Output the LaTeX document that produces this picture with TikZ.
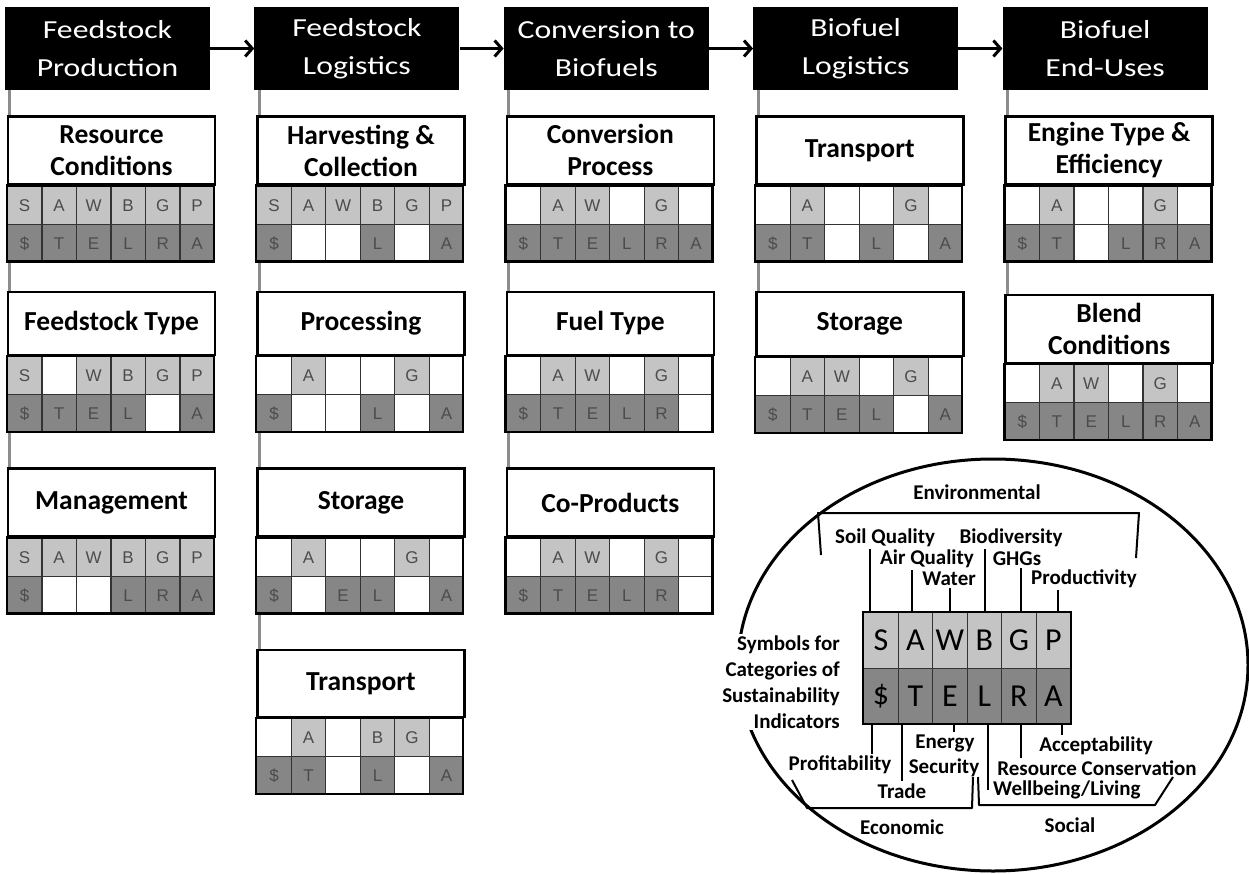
\documentclass[tikz,border=0pt]{standalone}
\usepackage{fontspec}
\setmainfont{Carlito}
\newfontfamily\hdfont{Carlito}[FakeStretch=1.22]
\newfontfamily\cellfont{Liberation Sans}
\usepackage{tikz}
\usetikzlibrary{arrows.meta,positioning,calc,backgrounds,shapes.geometric}
\definecolor{Light}{HTML}{C4C4C4}
\definecolor{Dark}{HTML}{868686}
\definecolor{Spine}{HTML}{8C8C8C}
\tikzset{
  stage/.style={fill=black,text=white,minimum width=205pt,minimum height=83pt,inner sep=0pt,
    align=center,font=\hdfont\fontsize{26}{38}\selectfont},
  flow/.style={-{Straight Barb[length=7pt,width=16pt]},line width=3pt},
  spine/.style={draw=Spine,line width=3pt},
  titlebox/.style={draw,line width=2.5pt,fill=white,minimum width=207pt,inner sep=0pt,
    align=center,font=\bfseries\fontsize{27.5}{32}\selectfont},
  cell/.style={draw=black!80,line width=1.2pt,minimum width=34.5pt,minimum height=38pt,inner sep=0pt,
    font=\cellfont\fontsize{17}{17}\selectfont,text=black!70},
  gridframe/.style={draw,line width=2.5pt},
  keycell/.style={cell,minimum height=55.5pt,font=\fontsize{32}{32}\selectfont,text=black},
  keylabel/.style={inner sep=2pt,font=\bfseries\fontsize{21}{26}\selectfont},
  lead/.style={line width=2pt},
  bracket/.style={line width=2pt,line join=round}
}
\newcommand{\leta}[1]{\ifcase#1\or S\or A\or W\or B\or G\or P\fi}
\newcommand{\letb}[1]{\ifcase#1\or \$\or T\or E\or L\or R\or A\fi}
\makeatletter
\newcommand{\cellrow}[5]{%
  \foreach \i in {1,...,6}{%
    \edef\tmp{\noexpand\in@{,\i,}{,#4,}}\tmp
    \ifin@\def\cf{#5}\def\ct{\csname let#2\endcsname{\i}}\else\def\cf{white}\def\ct{}\fi
    \node[cell,fill=\cf,anchor=north west] (#1-#2\i)
      at ($(#1.south west)+({(\i-1)*34.5},#3)$) {\ct};
  }%
}
\makeatother
\newcommand{\indbox}[6]{%
  \node[titlebox,minimum height=#3pt,#2,anchor=north west] (#1) {#4};
  \cellrow{#1}{a}{0}{#5}{Light}
  \cellrow{#1}{b}{-38}{#6}{Dark}
  \draw[gridframe] (#1.south west) rectangle ($(#1.south west)+(207,-76)$);
  \coordinate (#1-end) at ($(#1.south west)+(0,-76)$);
}

\begin{document}
\begin{tikzpicture}[x=1pt,y=1pt,node distance=44pt]
  \useasboundingbox (0,0) rectangle (1249,-874);
  \node[stage] (h1) at (107.5,-48.5) {Feedstock\\Production};
  \node[stage,right=of h1] (h2) {Feedstock\\Logistics};
  \node[stage,right=of h2] (h3) {Conversion to\\Biofuels};
  \node[stage,right=of h3] (h4) {Biofuel\\Logistics};
  \node[stage,right=of h4] (h5) {Biofuel\\End-Uses};
  \foreach \a/\b in {h1/h2,h2/h3,h3/h4,h4/h5}
    \draw[flow] (\a) -- (\b);

  \indbox{rc}{below=25pt of h1.south west,xshift=2pt}{68}{Resource\\Conditions}{1,2,3,4,5,6}{1,2,3,4,5,6}
  \indbox{ft}{below=29pt of rc-end}{63}{Feedstock Type}{1,3,4,5,6}{1,2,3,4,6}
  \indbox{mg}{below=35pt of ft-end}{68}{Management}{1,2,3,4,5,6}{1,4,5,6}

  \indbox{hc}{below=25pt of h2.south west,xshift=2pt}{68}{Harvesting \&\\Collection}{1,2,3,4,5,6}{1,4,6}
  \indbox{pr}{below=29pt of hc-end}{63}{Processing}{2,5}{1,4,6}
  \indbox{st}{below=35pt of pr-end}{68}{Storage}{2,5}{1,3,4,6}
  \indbox{tr}{below=35pt of st-end}{67}{Transport}{2,4,5}{1,2,4,6}

  \indbox{cp}{below=25pt of h3.south west,xshift=2pt}{68}{Conversion\\Process}{2,3,5}{1,2,3,4,5,6}
  \indbox{fu}{below=29pt of cp-end}{63}{Fuel Type}{2,3,5}{1,2,3,4,5}
  \indbox{co}{below=35pt of fu-end}{68}{Co-Products}{2,3,5}{1,2,3,4,5}

  \indbox{bt}{below=25pt of h4.south west,xshift=2pt}{68}{Transport}{2,5}{1,2,4,6}
  \indbox{bs}{below=29pt of bt-end}{64}{Storage}{2,3,5}{1,2,3,4,6}

  \indbox{en}{below=25pt of h5.south west,xshift=2pt}{68}{Engine Type \&\\Efficiency}{2,5}{1,2,4,5,6}
  \indbox{bl}{below=32pt of en-end}{68}{Blend\\Conditions}{2,3,5}{1,2,3,4,5,6}

  \begin{scope}[on background layer]
    \foreach \h/\b in {h1/mg,h2/tr,h3/co,h4/bs,h5/bl}{
      \coordinate (\h-s) at ($(\h.south west)+(5,0)$);
      \draw[spine] (\h-s) -- (\h-s |- \b.north);
    }
  \end{scope}

  \node[draw,ellipse,line width=3pt,minimum width=510pt,minimum height=412pt,inner sep=0pt] (key) at (993,-665) {};
  \foreach \l [count=\i] in {S,A,W,B,G,P}
    \node[keycell,fill=Light,anchor=north west] (k-a\i) at ({863+(\i-1)*34.5},-612) {\l};
  \foreach \l [count=\i] in {\$,T,E,L,R,A}
    \node[keycell,fill=Dark,anchor=north west] (k-b\i) at ({863+(\i-1)*34.5},-667.5) {\l};
  \draw[gridframe] (k-a1.north west) rectangle (k-b6.south east);

  \node[keylabel] (env) at (977,-492) {Environmental};
  \node[keylabel] (soil) at (885,-538) {Soil Quality};
  \node[keylabel] (air) at (927,-559) {Air Quality};
  \node[keylabel] (water) at (949,-579) {Water};
  \node[keylabel] (bio) at (1011,-538) {Biodiversity};
  \node[keylabel] (ghg) at (1017,-559) {GHGs};
  \node[keylabel] (prod) at (1084,-579) {Productivity};
  \node[keylabel,fill=white,align=right,anchor=east] (sym) at (842,-682) {Symbols for\\Categories of\\Sustainability\\Indicators};
  \node[keylabel] (prof) at (840,-765) {Profitability};
  \node[keylabel] (trade) at (902,-791) {Trade};
  \node[keylabel] (energy) at (945,-743) {Energy};
  \node[keylabel] (sec) at (944,-768) {Security};
  \node[keylabel,anchor=west] (well) at (991,-790) {Wellbeing/Living};
  \node[keylabel] (resc) at (1097,-768) {Resource Conservation};
  \node[keylabel] (acc) at (1096,-746) {Acceptability};
  \node[keylabel] (econ) at (902,-827) {Economic};
  \node[keylabel] (soc) at (1070,-825) {Social};

  \foreach \c/\dx/\t in {1/-11/soil,2/-3/air,3/0/water,4/1/bio,5/2/ghg,6/5/prod}{
    \coordinate (k-t\c) at ([xshift=\dx pt]k-a\c.north);
    \draw[lead] (k-t\c) -- (k-t\c |- \t.south);
  }
  \foreach \c/\dx/\t in {1/-9/prof.north,2/-13/trade.north,3/4/energy.north,4/4/well.center,5/2/resc.north,6/9/acc.north}{
    \coordinate (k-u\c) at ([xshift=\dx pt]k-b\c.south);
    \draw[lead] (k-u\c) -- (k-u\c |- \t);
  }

  \draw[bracket] (821,-555) -- (818,-513) -- (1139,-513) -- (1136,-558);
  \draw[bracket] (792,-780) -- (807,-808) -- (972,-808) -- (973,-777);
  \draw[bracket] (978,-777) -- (979,-805) -- (1155,-805) -- (1173,-777);
\end{tikzpicture}
\end{document}
